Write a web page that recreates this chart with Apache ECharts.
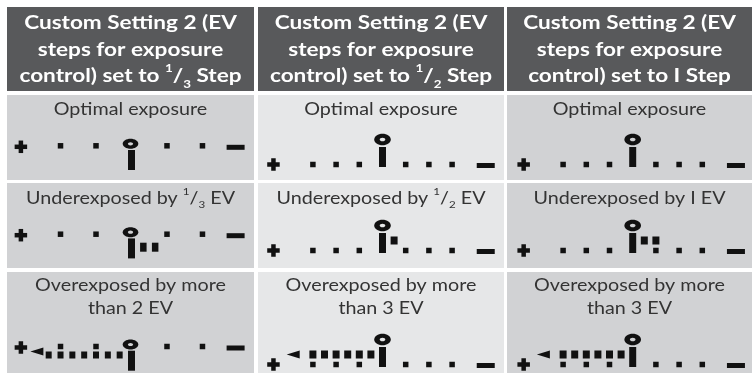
<!DOCTYPE html>
<html><head><meta charset="utf-8">
<script src="https://cdn.jsdelivr.net/npm/echarts@6/dist/echarts.min.js"></script>
<style>html,body{margin:0;padding:0;background:#fff}#c{width:752px;height:380px}</style>
</head><body><div id="c"></div>
<script>
// ---------- DATA ----------
const headerTitles = [
  'Custom Setting 2 (EV\nsteps for exposure\ncontrol) set to {sup|1}/{sub|3} Step',
  'Custom Setting 2 (EV\nsteps for exposure\ncontrol) set to {sup|1}/{sub|2} Step',
  'Custom Setting 2 (EV\nsteps for exposure\ncontrol) set to I Step'
];
const rowLabelsCol1 = ['Optimal exposure', 'Underexposed by {sup|1}/{sub|3} EV', 'Overexposed by more\nthan 2 EV'];
const rowLabelsCol2 = ['Optimal exposure', 'Underexposed by {sup|1}/{sub|2} EV', 'Overexposed by more\nthan 3 EV'];
const rowLabelsCol3 = ['Optimal exposure', 'Underexposed by I EV', 'Overexposed by more\nthan 3 EV'];

// indicator positions, in indicator steps from the centre mark (negative = "+" side)
const plusPos = [-9.35, -9.4, -9.4];
const minusPos = [8.8, 8.9, 8.9];
const dotsCol1 = [-6, -3, 3, 6];
const dotsCol23 = [-6, -4, -2, 2, 4, 6];
const barsCol1 = [[], [1, 2], [-7, -6, -5, -4, -3, -2, -1]];
const barsCol2 = [[], [1], [-6, -5, -4, -3, -2, -1]];
const barsCol3 = [[], [1, 2], [-6, -5, -4, -3, -2, -1]];
const arrowCol1 = [null, null, -8.0];
const arrowCol2 = [null, null, -7.7];
const arrowCol3 = [null, null, -7.7];

// ---------- LAYOUT ----------
const colX = [7, 258, 507], colW = [247, 246, 245];
const headY = 7, headH = 84;
const rowY = [95, 183, 272], rowH = [85, 85, 101];
const pinX = [131.5, 382.5, 632.7];
const unitPx = [11.83, 11.6, 11.6];
const dotY = [[145.8, 234.2, 346.5], [164.5, 250.5, 364.5], [164.5, 250.5, 364.5]];
const barDropA = [12.5, 13, 8.5];
const bodyBg = ['#d1d2d4', '#e6e7e8', '#d1d2d4'];
const headBg = '#58595b';
const labelCY = [110, 198.5, 297];

const rowLabels = [rowLabelsCol1, rowLabelsCol2, rowLabelsCol3];
const dotsByCol = [dotsCol1, dotsCol23, dotsCol23];
const barsByCol = [barsCol1, barsCol2, barsCol3];
const arrowByCol = [arrowCol1, arrowCol2, arrowCol3];

const HS = 1.22, BS = 1.16;
const graphic = [];
for (let c = 0; c < 3; c++) {
  const cx = colX[c] + colW[c] / 2;
  graphic.push({type: 'rect', shape: {x: colX[c], y: headY, width: colW[c], height: headH}, style: {fill: headBg}, silent: true});
  graphic.push({type: 'text', x: cx, y: headY + headH / 2 + 1, scaleX: HS,
    style: {text: headerTitles[c], fill: '#fff', font: 'bold 18.5px Lato', align: 'center', verticalAlign: 'middle', lineHeight: 26.5,
      rich: {sup: {fontSize: 11, fontWeight: 'bold', fill: '#fff', fontFamily: 'Lato', verticalAlign: 'top', lineHeight: 26.5, padding: [0, 0, 8, 0]},
             sub: {fontSize: 11, fontWeight: 'bold', fill: '#fff', fontFamily: 'Lato', verticalAlign: 'bottom', lineHeight: 26.5, padding: [6, 0, 0, 0]}}}});
  for (let r = 0; r < 3; r++) {
    graphic.push({type: 'rect', shape: {x: colX[c], y: rowY[r], width: colW[c], height: rowH[r]}, style: {fill: bodyBg[c]}, silent: true});
    graphic.push({type: 'text', x: cx, y: labelCY[r], scaleX: BS,
      style: {text: rowLabels[c][r], fill: '#333', font: '17px Lato', align: 'center', verticalAlign: 'middle', lineHeight: 23,
        rich: {sup: {fontSize: 10, fill: '#333', fontFamily: 'Lato', verticalAlign: 'top', padding: [0, 0, 6, 0]},
               sub: {fontSize: 10, fill: '#333', fontFamily: 'Lato', verticalAlign: 'bottom', padding: [5, 0, 0, 0]}}}});
  }
}

// marks: kind 0 dot, 1 bar, 2 pin, 3 plus, 4 minus, 5 arrow
const grids = [], xAxes = [], yAxes = [], series = [];
let gi = 0;
for (let c = 0; c < 3; c++) {
  for (let r = 0; r < 3; r++) {
    const left = colX[c], width = colW[c];
    grids.push({left: left, width: width, top: dotY[c][r] - 10, height: 20, show: false, containLabel: false});
    xAxes.push({gridIndex: gi, type: 'value', min: -(pinX[c] - left) / unitPx[c], max: (left + width - pinX[c]) / unitPx[c], show: false});
    yAxes.push({gridIndex: gi, type: 'value', min: -1, max: 1, show: false});
    const data = [];
    dotsByCol[c].forEach(x => data.push([x, 0]));
    barsByCol[c][r].forEach(x => data.push([x, 1]));
    data.push([0, 2]);
    data.push([plusPos[c], 3]);
    data.push([minusPos[c], 4]);
    if (arrowByCol[c][r] !== null) data.push([arrowByCol[c][r], 5]);
    const typeA = c === 0;
    const bg = bodyBg[c];
    const drop = barDropA[r];
    series.push({
      type: 'custom', xAxisIndex: gi, yAxisIndex: gi, silent: true, animation: false,
      data: data,
      renderItem: function (params, api) {
        const x = api.value(0), kind = api.value(1);
        const p = api.coord([x, 0]);
        const px = p[0], py = p[1];
        const fill = '#111';
        const R = (cx, cy, w, h) => ({type: 'rect', shape: {x: cx - w / 2, y: cy - h / 2, width: w, height: h}, style: {fill: fill}});
        if (kind === 0) return R(px, py, 5.5, 5.5);
        if (kind === 1) return typeA ? (drop < 10 ? R(px, py + drop, 6, 7) : R(px, py + drop, 6.5, 9)) : R(px, py - 10, 7, 8);
        if (kind === 3) {
          const cy = typeA ? py + 1 : py;
          return {type: 'group', children: [R(px, cy, 12.5, 4.5), R(px, cy, 4.5, 12.5)]};
        }
        if (kind === 4) return R(px, typeA ? py + 1.5 : py + 1, 18, 5);
        if (kind === 5) {
          const cy = typeA ? py + 5 : py - 10;
          return {type: 'polygon', shape: {points: [[px - 6.5, cy], [px + 6.5, cy - 4], [px + 6.5, cy + 4]]}, style: {fill: fill}};
        }
        // pin
        if (typeA) {
          return {type: 'group', children: [
            {type: 'ellipse', shape: {cx: px - 1, cy: py - 2, rx: 7.8, ry: 5}, style: {fill: fill}},
            {type: 'ellipse', shape: {cx: px - 1, cy: py - 2, rx: 2.6, ry: 1.6}, style: {fill: bg}},
            R(px, py + 14.2, 7, 20)
          ]};
        }
        return {type: 'group', children: [
          {type: 'ellipse', shape: {cx: px, cy: py - 25, rx: 8.3, ry: 5.8}, style: {fill: fill}},
          {type: 'ellipse', shape: {cx: px, cy: py - 25, rx: 2.8, ry: 1.8}, style: {fill: bg}},
          R(px, py - 7.5, 7, 20)
        ]};
      }
    });
    gi++;
  }
}

const chart = echarts.init(document.getElementById('c'), null, {renderer: 'canvas'});
chart.setOption({animation: false, backgroundColor: '#fff', graphic: graphic, grid: grids, xAxis: xAxes, yAxis: yAxes, series: series});
</script></body></html>
